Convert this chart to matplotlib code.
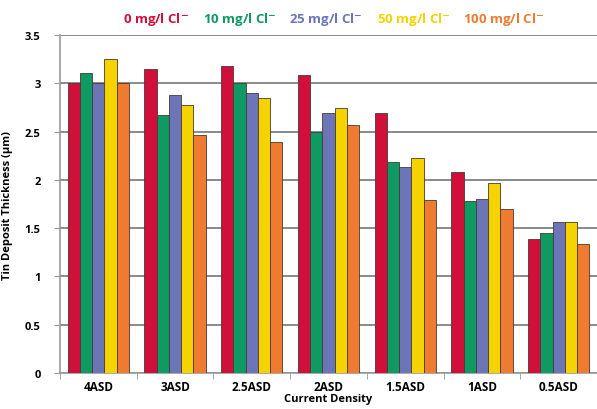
import matplotlib
matplotlib.use("Agg")
import matplotlib.pyplot as plt
import numpy as np

categories = ["4ASD", "3ASD", "2.5ASD", "2ASD", "1.5ASD", "1ASD", "0.5ASD"]
series_names = ["0 mg/l Cl$^{\\mathbf{-}}$", "10 mg/l Cl$^{\\mathbf{-}}$", "25 mg/l Cl$^{\\mathbf{-}}$",
                "50 mg/l Cl$^{\\mathbf{-}}$", "100 mg/l Cl$^{\\mathbf{-}}$"]
cl0 = [3.00, 3.15, 3.18, 3.09, 2.69, 2.08, 1.39]
cl10 = [3.11, 2.67, 3.00, 2.50, 2.19, 1.78, 1.45]
cl25 = [3.00, 2.88, 2.90, 2.69, 2.13, 1.80, 1.56]
cl50 = [3.25, 2.77, 2.85, 2.74, 2.23, 1.97, 1.56]
cl100 = [3.00, 2.46, 2.39, 2.57, 1.79, 1.70, 1.34]
series = [cl0, cl10, cl25, cl50, cl100]
colors = ["#d0103a", "#0f9a64", "#6b75b8", "#f5d300", "#ee7b30"]
yticks = [0, 0.5, 1, 1.5, 2, 2.5, 3, 3.5]
ytick_labels = ["0", "0.5", "1", "1.5", "2", "2.5", "3", "3.5"]

plt.rcParams['font.family'] = ['Open Sans', 'DejaVu Sans']
fig = plt.figure(figsize=(5.97, 4.10), dpi=100)
ax = fig.add_axes([60/597, 1-374/410, 537/597, (374-36)/410])

x = np.arange(len(categories))
n = len(series)
w = 0.16
for i, (vals, c) in enumerate(zip(series, colors)):
    ax.bar(x + (i - (n-1)/2) * w, vals, width=w, color=c, edgecolor="#4a3a30",
           linewidth=0.6, zorder=3)

ax.set_xlim(-0.5, -0.5 + 537/78)
ax.set_ylim(0, 3.5)
ax.set_yticks(yticks)
ax.set_yticklabels(ytick_labels, fontsize=8, fontweight='bold')
ax.yaxis.grid(True, color="#8a8a8a", linewidth=1.4, zorder=0)
ax.set_xticks(x)
ax.set_xticklabels(categories, fontsize=8.5, fontweight='bold')
ax.set_xticks(np.arange(len(categories)+1) - 0.5, minor=True)
ax.tick_params(axis='x', which='major', length=0, pad=5)
ax.tick_params(axis='x', which='minor', length=4, color="#999999", direction='out')
ax.tick_params(axis='y', length=4, color="#999999", pad=10)
for s in ["top", "right"]:
    ax.spines[s].set_visible(False)
ax.spines["left"].set_color("#999999")
ax.spines["bottom"].set_color("#999999")
ax.spines["left"].set_linewidth(1.2)
ax.spines["bottom"].set_linewidth(1.2)

ax.set_xlabel("Current Density", fontsize=8, fontweight='bold', labelpad=0)
ax.set_ylabel("Tin Deposit Thickness (µm)", fontsize=8, fontweight='bold', labelpad=8)

legend_x = [123, 203, 289, 377, 463]
for name, c, lx in zip(series_names, colors, legend_x):
    fig.text(lx/597, 1-20/410, name, color=c, fontsize=9.5, fontweight='bold', va='center', ha='left')

fig.savefig("out.png", dpi=100)
